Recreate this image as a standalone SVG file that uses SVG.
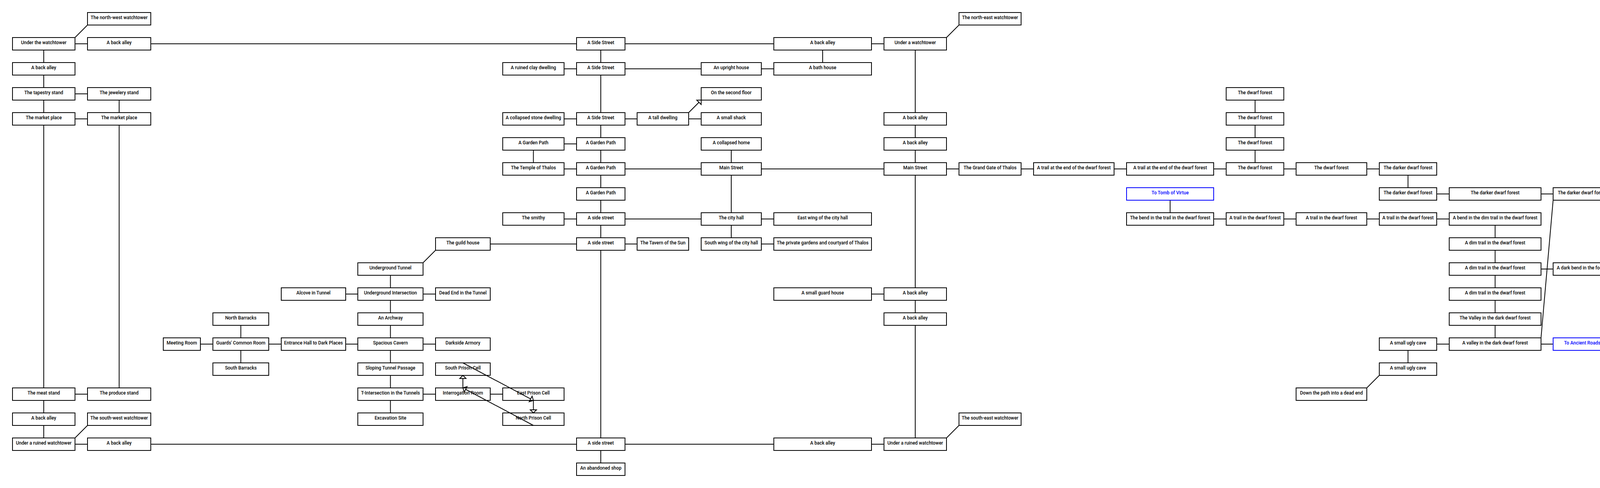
<svg xmlns="http://www.w3.org/2000/svg" width="4157" height="1248" viewBox="0 0 4157 1248">
<style>
text{font-family:"Roboto","Liberation Sans",sans-serif;font-size:11.9px;font-weight:500;text-anchor:middle;fill:#000}
rect{fill:none;stroke:#000;stroke-width:2}
line{stroke:#000;stroke-width:2}
.x rect{stroke:#00f}
.x text{fill:#00f}
.a{marker-end:url(#arrow)}
</style>
<defs>
<marker id="arrow" markerUnits="userSpaceOnUse" markerWidth="24" markerHeight="24" viewBox="-12 -12 24 24" refX="0" refY="0" orient="auto">
<polygon points="0,0 -8,-8 -8,8" fill="#fff" stroke="#000" stroke-width="2"/>
</marker>
</defs>
<rect width="4157" height="1248" style="fill:#fff;stroke:none"/>
<g id="connectors">
<line x1="192" y1="96" x2="224" y2="64"/>
<line x1="192" y1="112" x2="224" y2="112"/>
<line x1="386" y1="112" x2="1476" y2="112"/>
<line x1="1600" y1="112" x2="1981" y2="112"/>
<line x1="2231" y1="112" x2="2263" y2="112"/>
<line x1="2423" y1="96" x2="2455" y2="64"/>
<line x1="112" y1="128" x2="112" y2="160"/>
<line x1="112" y1="192" x2="112" y2="224"/>
<line x1="192" y1="240" x2="224" y2="240"/>
<line x1="112" y1="256" x2="112" y2="288"/>
<line x1="305" y1="256" x2="305" y2="288"/>
<line x1="192" y1="304" x2="224" y2="304"/>
<line x1="112" y1="320" x2="112" y2="992"/>
<line x1="305" y1="320" x2="305" y2="992"/>
<line x1="192" y1="1008" x2="224" y2="1008"/>
<line x1="112" y1="1024" x2="112" y2="1056"/>
<line x1="112" y1="1088" x2="112" y2="1120"/>
<line x1="192" y1="1120" x2="224" y2="1088"/>
<line x1="192" y1="1136" x2="224" y2="1136"/>
<line x1="386" y1="1136" x2="1476" y2="1136"/>
<line x1="1600" y1="1136" x2="1981" y2="1136"/>
<line x1="2231" y1="1136" x2="2263" y2="1136"/>
<line x1="2423" y1="1120" x2="2455" y2="1088"/>
<line x1="1538" y1="128" x2="1538" y2="160"/>
<line x1="1444" y1="176" x2="1476" y2="176"/>
<line x1="1600" y1="176" x2="1795" y2="176"/>
<line x1="1949" y1="176" x2="1981" y2="176"/>
<line x1="2106" y1="128" x2="2106" y2="160"/>
<line x1="1538" y1="192" x2="1538" y2="288"/>
<line x1="1444" y1="304" x2="1476" y2="304"/>
<line x1="1600" y1="304" x2="1631" y2="304"/>
<line x1="1763" y1="304" x2="1795" y2="304"/>
<line class="a" x1="1763" y1="288" x2="1795" y2="256"/>
<line x1="1538" y1="320" x2="1538" y2="352"/>
<line x1="1444" y1="368" x2="1476" y2="368"/>
<line x1="1365.5" y1="384" x2="1365.5" y2="416"/>
<line x1="1538" y1="384" x2="1538" y2="416"/>
<line x1="1872" y1="384" x2="1872" y2="416"/>
<line x1="1444" y1="432" x2="1476" y2="432"/>
<line x1="1600" y1="432" x2="1795" y2="432"/>
<line x1="1949" y1="432" x2="2263" y2="432"/>
<line x1="2423" y1="432" x2="2455" y2="432"/>
<line x1="2614" y1="432" x2="2646" y2="432"/>
<line x1="2852" y1="432" x2="2884" y2="432"/>
<line x1="3107" y1="432" x2="3139" y2="432"/>
<line x1="3286.5" y1="432" x2="3318" y2="432"/>
<line x1="3499" y1="432" x2="3531" y2="432"/>
<line x1="1538" y1="448" x2="1538" y2="480"/>
<line x1="1538" y1="512" x2="1538" y2="544"/>
<line x1="1444" y1="560" x2="1476" y2="560"/>
<line x1="1600" y1="560" x2="1795" y2="560"/>
<line x1="1949" y1="560" x2="1981" y2="560"/>
<line x1="1872" y1="448" x2="1872" y2="544"/>
<line x1="1872" y1="576" x2="1872" y2="608"/>
<line x1="1949" y1="624" x2="1981" y2="624"/>
<line x1="1538" y1="576" x2="1538" y2="608"/>
<line x1="1255" y1="624" x2="1476" y2="624"/>
<line x1="1600" y1="624" x2="1631" y2="624"/>
<line x1="1538" y1="640" x2="1538" y2="1120"/>
<line x1="1538" y1="1152" x2="1538" y2="1184"/>
<line x1="1083" y1="672" x2="1115" y2="640"/>
<line x1="999.5" y1="704" x2="999.5" y2="736"/>
<line x1="885" y1="752" x2="916" y2="752"/>
<line x1="1083" y1="752" x2="1115" y2="752"/>
<line x1="999.5" y1="768" x2="999.5" y2="800"/>
<line x1="999.5" y1="832" x2="999.5" y2="864"/>
<line x1="616.5" y1="832" x2="616.5" y2="864"/>
<line x1="513" y1="880" x2="545" y2="880"/>
<line x1="688" y1="880" x2="720" y2="880"/>
<line x1="885" y1="880" x2="916" y2="880"/>
<line x1="1083" y1="880" x2="1115" y2="880"/>
<line x1="616.5" y1="896" x2="616.5" y2="928"/>
<line x1="999.5" y1="896" x2="999.5" y2="928"/>
<line x1="999.5" y1="960" x2="999.5" y2="992"/>
<line x1="1083" y1="1008" x2="1115" y2="1008"/>
<line x1="1255" y1="1008" x2="1287" y2="1008"/>
<line x1="999.5" y1="1024" x2="999.5" y2="1056"/>
<line class="a" x1="1185" y1="992" x2="1185" y2="960"/>
<line class="a" x1="1365.5" y1="1024" x2="1365.5" y2="1056"/>
<line class="a" x1="1185" y1="928" x2="1365.5" y2="1024"/>
<line class="a" x1="1365.5" y1="1088" x2="1185" y2="992"/>
<line x1="2343" y1="128" x2="2343" y2="288"/>
<line x1="2343" y1="320" x2="2343" y2="352"/>
<line x1="2343" y1="384" x2="2343" y2="416"/>
<line x1="2343" y1="448" x2="2343" y2="736"/>
<line x1="2231" y1="752" x2="2263" y2="752"/>
<line x1="2343" y1="768" x2="2343" y2="800"/>
<line x1="2343" y1="832" x2="2343" y2="1120"/>
<line x1="3213" y1="256" x2="3213" y2="288"/>
<line x1="3213" y1="320" x2="3213" y2="352"/>
<line x1="3213" y1="384" x2="3213" y2="416"/>
<line x1="3604.5" y1="448" x2="3604.5" y2="480"/>
<line x1="3678" y1="496" x2="3710" y2="496"/>
<line x1="3945" y1="496" x2="3976" y2="496"/>
<line x1="2995.5" y1="512" x2="2995.5" y2="544"/>
<line x1="3107" y1="560" x2="3139" y2="560"/>
<line x1="3286.5" y1="560" x2="3318" y2="560"/>
<line x1="3499" y1="560" x2="3531" y2="560"/>
<line x1="3678" y1="560" x2="3710" y2="560"/>
<line x1="3827.5" y1="576" x2="3827.5" y2="608"/>
<line x1="3827.5" y1="640" x2="3827.5" y2="672"/>
<line x1="3945" y1="688" x2="3976" y2="688"/>
<line x1="3827.5" y1="704" x2="3827.5" y2="736"/>
<line x1="3827.5" y1="768" x2="3827.5" y2="800"/>
<line x1="3827.5" y1="832" x2="3827.5" y2="864"/>
<line x1="3678" y1="880" x2="3710" y2="880"/>
<line x1="3945" y1="880" x2="3976" y2="880"/>
<line x1="3945" y1="864" x2="3976" y2="512"/>
<line x1="3604.5" y1="896" x2="3604.5" y2="928"/>
<line x1="3499" y1="992" x2="3531" y2="960"/>
</g>
<g id="n01"><rect x="224" y="32" width="162" height="32"/><text x="305" y="49">The north-west watchtower</text></g>
<g id="n02"><rect x="2455" y="32" width="159" height="32"/><text x="2534.5" y="49">The north-east watchtower</text></g>
<g id="n03"><rect x="32" y="96" width="160" height="32"/><text x="112" y="113">Under the watchtower</text></g>
<g id="n04"><rect x="224" y="96" width="162" height="32"/><text x="305" y="113">A back alley</text></g>
<g id="n05"><rect x="1476" y="96" width="124" height="32"/><text x="1538" y="113">A Side Street</text></g>
<g id="n06"><rect x="1981" y="96" width="250" height="32"/><text x="2106" y="113">A back alley</text></g>
<g id="n07"><rect x="2263" y="96" width="160" height="32"/><text x="2343" y="113">Under a watchtower</text></g>
<g id="n08"><rect x="32" y="160" width="160" height="32"/><text x="112" y="177">A back alley</text></g>
<g id="n09"><rect x="1287" y="160" width="157" height="32"/><text x="1365.5" y="177">A ruined clay dwelling</text></g>
<g id="n10"><rect x="1476" y="160" width="124" height="32"/><text x="1538" y="177">A Side Street</text></g>
<g id="n11"><rect x="1795" y="160" width="154" height="32"/><text x="1872" y="177">An upright house</text></g>
<g id="n12"><rect x="1981" y="160" width="250" height="32"/><text x="2106" y="177">A bath house</text></g>
<g id="n13"><rect x="32" y="224" width="160" height="32"/><text x="112" y="241">The tapestry stand</text></g>
<g id="n14"><rect x="224" y="224" width="162" height="32"/><text x="305" y="241">The jewelery stand</text></g>
<g id="n15"><rect x="1795" y="224" width="154" height="32"/><text x="1872" y="241">On the second floor</text></g>
<g id="n16"><rect x="3139" y="224" width="147.500" height="32"/><text x="3213" y="241">The dwarf forest</text></g>
<g id="n17"><rect x="32" y="288" width="160" height="32"/><text x="112" y="305">The market place</text></g>
<g id="n18"><rect x="224" y="288" width="162" height="32"/><text x="305" y="305">The market place</text></g>
<g id="n19"><rect x="1287" y="288" width="157" height="32"/><text x="1365.5" y="305">A collapsed stone dwelling</text></g>
<g id="n20"><rect x="1476" y="288" width="124" height="32"/><text x="1538" y="305">A Side Street</text></g>
<g id="n21"><rect x="1631" y="288" width="132" height="32"/><text x="1697" y="305">A tall dwelling</text></g>
<g id="n22"><rect x="1795" y="288" width="154" height="32"/><text x="1872" y="305">A small shack</text></g>
<g id="n23"><rect x="2263" y="288" width="160" height="32"/><text x="2343" y="305">A back alley</text></g>
<g id="n24"><rect x="3139" y="288" width="147.500" height="32"/><text x="3213" y="305">The dwarf forest</text></g>
<g id="n25"><rect x="1287" y="352" width="157" height="32"/><text x="1365.5" y="369">A Garden Path</text></g>
<g id="n26"><rect x="1476" y="352" width="124" height="32"/><text x="1538" y="369">A Garden Path</text></g>
<g id="n27"><rect x="1795" y="352" width="154" height="32"/><text x="1872" y="369">A collapsed home</text></g>
<g id="n28"><rect x="2263" y="352" width="160" height="32"/><text x="2343" y="369">A back alley</text></g>
<g id="n29"><rect x="3139" y="352" width="147.500" height="32"/><text x="3213" y="369">The dwarf forest</text></g>
<g id="n30"><rect x="1287" y="416" width="157" height="32"/><text x="1365.5" y="433">The Temple of Thalos</text></g>
<g id="n31"><rect x="1476" y="416" width="124" height="32"/><text x="1538" y="433">A Garden Path</text></g>
<g id="n32"><rect x="1795" y="416" width="154" height="32"/><text x="1872" y="433">Main Street</text></g>
<g id="n33"><rect x="2263" y="416" width="160" height="32"/><text x="2343" y="433">Main Street</text></g>
<g id="n34"><rect x="2455" y="416" width="159" height="32"/><text x="2534.5" y="433">The Grand Gate of Thalos</text></g>
<g id="n35"><rect x="2646" y="416" width="206" height="32"/><text x="2749" y="433">A trail at the end of the dwarf forest</text></g>
<g id="n36"><rect x="2884" y="416" width="223" height="32"/><text x="2995.5" y="433">A trail at the end of the dwarf forest</text></g>
<g id="n37"><rect x="3139" y="416" width="147.500" height="32"/><text x="3213" y="433">The dwarf forest</text></g>
<g id="n38"><rect x="3318" y="416" width="181" height="32"/><text x="3408.5" y="433">The dwarf forest</text></g>
<g id="n39"><rect x="3531" y="416" width="147" height="32"/><text x="3604.5" y="433">The darker dwarf forest</text></g>
<g id="n40"><rect x="1476" y="480" width="124" height="32"/><text x="1538" y="497">A Garden Path</text></g>
<g id="n41" class="x"><rect x="2884" y="480" width="223" height="32"/><text x="2995.5" y="497">To Tomb of Virtue</text></g>
<g id="n42"><rect x="3531" y="480" width="147" height="32"/><text x="3604.5" y="497">The darker dwarf forest</text></g>
<g id="n43"><rect x="3710" y="480" width="235" height="32"/><text x="3827.5" y="497">The darker dwarf forest</text></g>
<g id="n44"><rect x="3976" y="480" width="149" height="32"/><text x="4050.5" y="497">The darker dwarf forest</text></g>
<g id="n45"><rect x="1287" y="544" width="157" height="32"/><text x="1365.5" y="561">The smithy</text></g>
<g id="n46"><rect x="1476" y="544" width="124" height="32"/><text x="1538" y="561">A side street</text></g>
<g id="n47"><rect x="1795" y="544" width="154" height="32"/><text x="1872" y="561">The city hall</text></g>
<g id="n48"><rect x="1981" y="544" width="250" height="32"/><text x="2106" y="561">East wing of the city hall</text></g>
<g id="n49"><rect x="2884" y="544" width="223" height="32"/><text x="2995.5" y="561">The bend in the trail in the dwarf forest</text></g>
<g id="n50"><rect x="3139" y="544" width="147.500" height="32"/><text x="3213" y="561">A trail in the dwarf forest</text></g>
<g id="n51"><rect x="3318" y="544" width="181" height="32"/><text x="3408.5" y="561">A trail in the dwarf forest</text></g>
<g id="n52"><rect x="3531" y="544" width="147" height="32"/><text x="3604.5" y="561">A trail in the dwarf forest</text></g>
<g id="n53"><rect x="3710" y="544" width="235" height="32"/><text x="3827.5" y="561">A bend in the dim trail in the dwarf forest</text></g>
<g id="n54"><rect x="1115" y="608" width="140" height="32"/><text x="1185" y="625">The guild house</text></g>
<g id="n55"><rect x="1476" y="608" width="124" height="32"/><text x="1538" y="625">A side street</text></g>
<g id="n56"><rect x="1631" y="608" width="132" height="32"/><text x="1697" y="625">The Tavern of the Sun</text></g>
<g id="n57"><rect x="1795" y="608" width="154" height="32"/><text x="1872" y="625">South wing of the city hall</text></g>
<g id="n58"><rect x="1981" y="608" width="250" height="32"/><text x="2106" y="625">The private gardens and courtyard of Thalos</text></g>
<g id="n59"><rect x="3710" y="608" width="235" height="32"/><text x="3827.5" y="625">A dim trail in the dwarf forest</text></g>
<g id="n60"><rect x="916" y="672" width="167" height="32"/><text x="999.5" y="689">Underground Tunnel</text></g>
<g id="n61"><rect x="3710" y="672" width="235" height="32"/><text x="3827.5" y="689">A dim trail in the dwarf forest</text></g>
<g id="n62"><rect x="3976" y="672" width="149" height="32"/><text x="4050.5" y="689">A dark bend in the forest</text></g>
<g id="n63"><rect x="720" y="736" width="165" height="32"/><text x="802.5" y="753">Alcove in Tunnel</text></g>
<g id="n64"><rect x="916" y="736" width="167" height="32"/><text x="999.5" y="753">Underground Intersection</text></g>
<g id="n65"><rect x="1115" y="736" width="140" height="32"/><text x="1185" y="753">Dead End in the Tunnel</text></g>
<g id="n66"><rect x="1981" y="736" width="250" height="32"/><text x="2106" y="753">A small guard house</text></g>
<g id="n67"><rect x="2263" y="736" width="160" height="32"/><text x="2343" y="753">A back alley</text></g>
<g id="n68"><rect x="3710" y="736" width="235" height="32"/><text x="3827.5" y="753">A dim trail in the dwarf forest</text></g>
<g id="n69"><rect x="545" y="800" width="143" height="32"/><text x="616.5" y="817">North Barracks</text></g>
<g id="n70"><rect x="916" y="800" width="167" height="32"/><text x="999.5" y="817">An Archway</text></g>
<g id="n71"><rect x="2263" y="800" width="160" height="32"/><text x="2343" y="817">A back alley</text></g>
<g id="n72"><rect x="3710" y="800" width="235" height="32"/><text x="3827.5" y="817">The Valley in the dark dwarf forest</text></g>
<g id="n73"><rect x="418" y="864" width="95" height="32"/><text x="465.5" y="881">Meeting Room</text></g>
<g id="n74"><rect x="545" y="864" width="143" height="32"/><text x="616.5" y="881">Guards' Common Room</text></g>
<g id="n75"><rect x="720" y="864" width="165" height="32"/><text x="802.5" y="881">Entrance Hall to Dark Places</text></g>
<g id="n76"><rect x="916" y="864" width="167" height="32"/><text x="999.5" y="881">Spacious Cavern</text></g>
<g id="n77"><rect x="1115" y="864" width="140" height="32"/><text x="1185" y="881">Darkside Armory</text></g>
<g id="n78"><rect x="3531" y="864" width="147" height="32"/><text x="3604.5" y="881">A small ugly cave</text></g>
<g id="n79"><rect x="3710" y="864" width="235" height="32"/><text x="3827.5" y="881">A valley in the dark dwarf forest</text></g>
<g id="n80" class="x"><rect x="3976" y="864" width="149" height="32"/><text x="4050.5" y="881">To Ancient Roads</text></g>
<g id="n81"><rect x="545" y="928" width="143" height="32"/><text x="616.5" y="945">South Barracks</text></g>
<g id="n82"><rect x="916" y="928" width="167" height="32"/><text x="999.5" y="945">Sloping Tunnel Passage</text></g>
<g id="n83"><rect x="1115" y="928" width="140" height="32"/><text x="1185" y="945">South Prison Cell</text></g>
<g id="n84"><rect x="3531" y="928" width="147" height="32"/><text x="3604.5" y="945">A small ugly cave</text></g>
<g id="n85"><rect x="32" y="992" width="160" height="32"/><text x="112" y="1009">The meat stand</text></g>
<g id="n86"><rect x="224" y="992" width="162" height="32"/><text x="305" y="1009">The produce stand</text></g>
<g id="n87"><rect x="916" y="992" width="167" height="32"/><text x="999.5" y="1009">T-Intersection in the Tunnels</text></g>
<g id="n88"><rect x="1115" y="992" width="140" height="32"/><text x="1185" y="1009">Interrogation Room</text></g>
<g id="n89"><rect x="1287" y="992" width="157" height="32"/><text x="1365.5" y="1009">East Prison Cell</text></g>
<g id="n90"><rect x="3318" y="992" width="181" height="32"/><text x="3408.5" y="1009">Down the path into a dead end</text></g>
<g id="n91"><rect x="32" y="1056" width="160" height="32"/><text x="112" y="1073">A back alley</text></g>
<g id="n92"><rect x="224" y="1056" width="162" height="32"/><text x="305" y="1073">The south-west watchtower</text></g>
<g id="n93"><rect x="916" y="1056" width="167" height="32"/><text x="999.5" y="1073">Excavation Site</text></g>
<g id="n94"><rect x="1287" y="1056" width="157" height="32"/><text x="1365.5" y="1073">North Prison Cell</text></g>
<g id="n95"><rect x="32" y="1120" width="160" height="32"/><text x="112" y="1137">Under a ruined watchtower</text></g>
<g id="n96"><rect x="224" y="1120" width="162" height="32"/><text x="305" y="1137">A back alley</text></g>
<g id="n97"><rect x="1476" y="1120" width="124" height="32"/><text x="1538" y="1137">A side street</text></g>
<g id="n98"><rect x="1981" y="1120" width="250" height="32"/><text x="2106" y="1137">A back alley</text></g>
<g id="n99"><rect x="2263" y="1120" width="160" height="32"/><text x="2343" y="1137">Under a ruined watchtower</text></g>
<g id="n100"><rect x="2455" y="1056" width="159" height="32"/><text x="2534.5" y="1073">The south-east watchtower</text></g>
<g id="n101"><rect x="1476" y="1184" width="124" height="32"/><text x="1538" y="1201">An abandoned shop</text></g>
</svg>
